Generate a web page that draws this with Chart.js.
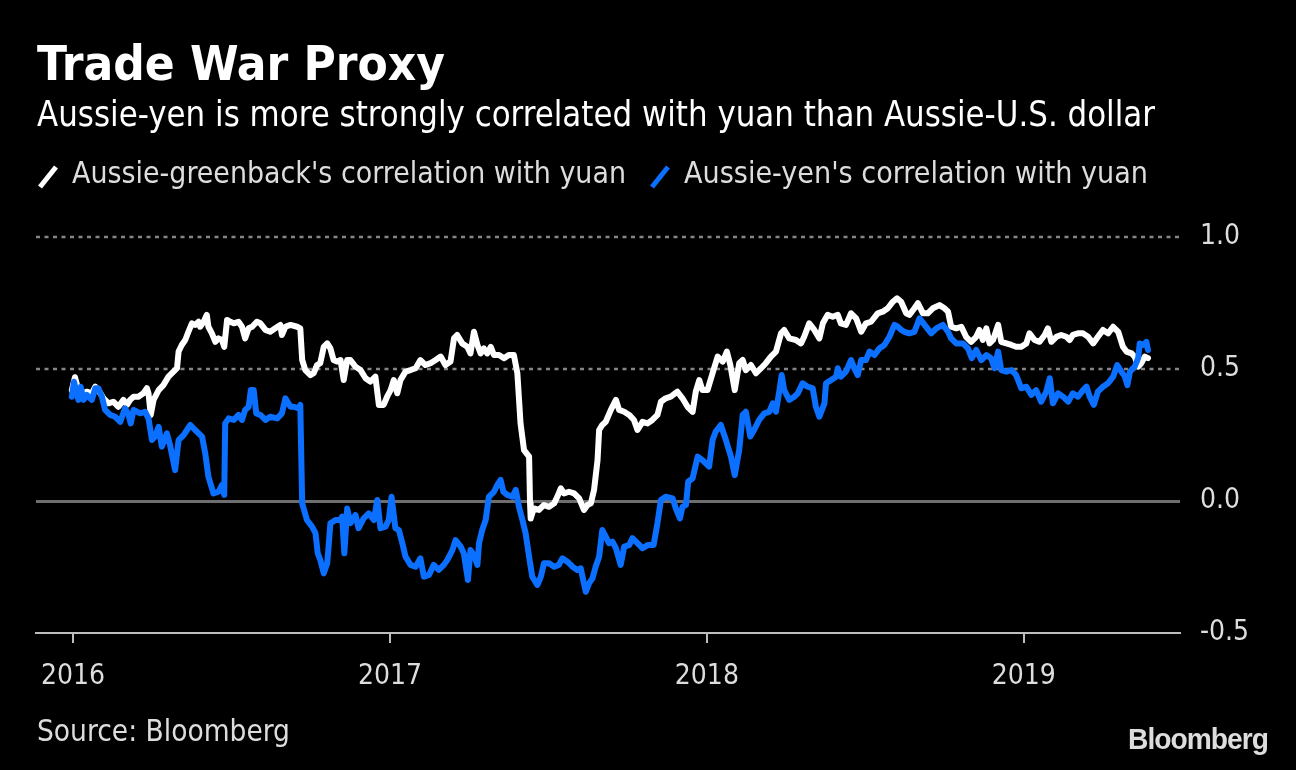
<!DOCTYPE html>
<html><head><meta charset="utf-8">
<script src="https://cdn.jsdelivr.net/npm/chart.js@4/dist/chart.umd.min.js"></script>
<style>
html,body{margin:0;padding:0;background:#000;width:1296px;height:770px;overflow:hidden}
#wrap{position:relative;width:1296px;height:770px;background:#000}
canvas{position:absolute;left:0;top:0}
.t{position:absolute;white-space:nowrap;line-height:1;transform-origin:0 0;font-family:'DejaVu Sans Condensed','DejaVu Sans',sans-serif}
svg{position:absolute;left:0;top:0}
</style></head><body>
<div id="wrap">
<canvas id="c" width="1296" height="770"></canvas>
<div class="t" data-w="408" style="left:37px;top:39px;font-size:48px;font-weight:bold;color:#fff">Trade War Proxy</div>
<div class="t" data-w="1118" style="left:37px;top:97px;font-size:35px;color:#fff">Aussie-yen is more strongly correlated with yuan than Aussie-U.S. dollar</div>
<svg width="1296" height="200"><line x1="40" y1="187" x2="56" y2="167" stroke="#fff" stroke-width="5"/><line x1="652" y1="187" x2="668" y2="167" stroke="#0b6fff" stroke-width="5"/></svg>
<div class="t" data-w="554" style="left:72px;top:158px;font-size:30px;color:#ddd">Aussie-greenback's correlation with yuan</div>
<div class="t" data-w="464" style="left:684px;top:158px;font-size:30px;color:#ddd">Aussie-yen's correlation with yuan</div>
<div class="t" data-w="253" style="left:37px;top:716px;font-size:30px;color:#ddd">Source: Bloomberg</div>
<div class="t" data-w="140" style="left:1128px;top:725px;font-size:29px;font-weight:bold;color:#ddd;font-family:'Liberation Sans',Arial,sans-serif;letter-spacing:-1px">Bloomberg</div>
</div>
<script>
// ---- data ----
const yearTicks = [2016, 2017, 2018, 2019];
const valueTicks = [-0.5, 0, 0.5, 1.0];
const dottedLevels = [0.5, 1.0];
const zeroLevel = 0;

const usdDates = [2015.996,2016.006,2016.014,2016.022,2016.033,2016.043,2016.059,2016.070,2016.080,2016.096,
2016.112,2016.127,2016.143,2016.159,2016.170,2016.180,2016.191,2016.206,2016.222,2016.233,
2016.238,2016.245,2016.254,2016.270,2016.285,2016.301,2016.317,2016.328,2016.333,2016.343,
2016.354,2016.364,2016.375,2016.385,2016.396,2016.401,2016.412,2016.422,2016.427,2016.438,
2016.449,2016.459,2016.470,2016.477,2016.486,2016.496,2016.507,2016.522,2016.533,2016.543,
2016.554,2016.565,2016.580,2016.591,2016.607,2016.622,2016.638,2016.654,2016.659,2016.670,
2016.686,2016.707,2016.717,2016.723,2016.733,2016.749,2016.759,2016.770,2016.780,2016.791,
2016.802,2016.812,2016.822,2016.833,2016.844,2016.854,2016.865,2016.875,2016.891,2016.907,
2016.923,2016.938,2016.954,2016.965,2016.980,2016.991,2017.002,2017.012,2017.023,2017.033,
2017.049,2017.065,2017.081,2017.096,2017.112,2017.128,2017.144,2017.160,2017.175,2017.191,
2017.202,2017.212,2017.228,2017.244,2017.254,2017.265,2017.276,2017.286,2017.296,2017.307,
2017.318,2017.328,2017.344,2017.360,2017.375,2017.391,2017.402,2017.412,2017.423,2017.439,
2017.442,2017.444,2017.454,2017.470,2017.486,2017.502,2017.518,2017.528,2017.539,2017.549,
2017.565,2017.581,2017.597,2017.612,2017.623,2017.634,2017.644,2017.655,2017.660,2017.670,
2017.681,2017.697,2017.713,2017.723,2017.739,2017.755,2017.770,2017.781,2017.797,2017.813,
2017.828,2017.844,2017.855,2017.870,2017.886,2017.907,2017.923,2017.939,2017.955,2017.965,
2017.976,2017.986,2018.002,2018.018,2018.034,2018.050,2018.063,2018.074,2018.088,2018.102,
2018.113,2018.123,2018.139,2018.155,2018.171,2018.186,2018.202,2018.218,2018.234,2018.244,
2018.260,2018.281,2018.297,2018.307,2018.323,2018.339,2018.355,2018.366,2018.381,2018.397,
2018.413,2018.423,2018.439,2018.455,2018.471,2018.487,2018.502,2018.518,2018.539,2018.555,
2018.571,2018.587,2018.600,2018.613,2018.629,2018.639,2018.655,2018.666,2018.682,2018.697,
2018.713,2018.734,2018.750,2018.761,2018.771,2018.787,2018.803,2018.818,2018.834,2018.850,
2018.860,2018.871,2018.882,2018.892,2018.903,2018.919,2018.929,2018.945,2018.961,2018.976,
2018.992,2019.008,2019.018,2019.034,2019.050,2019.066,2019.076,2019.087,2019.103,2019.118,
2019.134,2019.145,2019.155,2019.171,2019.187,2019.203,2019.219,2019.234,2019.250,2019.266,
2019.282,2019.298,2019.313,2019.324,2019.340,2019.350,2019.361,2019.371,2019.382,2019.392];

const usdValues = [0.420,0.469,0.433,0.420,0.408,0.414,0.408,0.433,0.420,0.389,
0.370,0.376,0.357,0.383,0.364,0.383,0.395,0.395,0.408,0.427,
0.408,0.326,0.383,0.420,0.439,0.471,0.490,0.503,0.566,0.591,
0.610,0.641,0.673,0.667,0.679,0.660,0.679,0.705,0.660,0.635,
0.603,0.616,0.610,0.584,0.686,0.679,0.673,0.679,0.660,0.616,
0.654,0.660,0.679,0.673,0.648,0.641,0.654,0.667,0.629,0.660,
0.667,0.660,0.654,0.534,0.496,0.477,0.484,0.515,0.522,0.584,
0.597,0.578,0.534,0.528,0.534,0.458,0.534,0.534,0.509,0.496,
0.465,0.452,0.471,0.364,0.364,0.395,0.420,0.458,0.408,0.458,
0.490,0.496,0.503,0.534,0.515,0.522,0.534,0.547,0.515,0.528,
0.616,0.629,0.597,0.584,0.559,0.641,0.591,0.559,0.578,0.559,
0.584,0.553,0.553,0.541,0.553,0.553,0.484,0.294,0.193,0.168,
-0.009,-0.066,-0.028,-0.034,-0.015,-0.022,-0.009,0.016,0.048,0.029,
0.035,0.029,0.010,-0.034,-0.015,-0.009,0.042,0.155,0.269,0.288,
0.300,0.345,0.383,0.345,0.338,0.326,0.307,0.269,0.300,0.294,
0.307,0.326,0.376,0.389,0.395,0.414,0.389,0.357,0.338,0.414,
0.458,0.420,0.420,0.484,0.547,0.528,0.566,0.515,0.420,0.522,
0.534,0.496,0.515,0.484,0.503,0.522,0.547,0.566,0.635,0.648,
0.616,0.610,0.597,0.622,0.673,0.648,0.616,0.673,0.705,0.698,
0.705,0.673,0.667,0.711,0.692,0.641,0.673,0.679,0.711,0.717,
0.730,0.755,0.768,0.755,0.711,0.705,0.730,0.749,0.711,0.711,
0.730,0.742,0.730,0.717,0.660,0.654,0.660,0.622,0.603,0.622,
0.648,0.610,0.654,0.597,0.610,0.667,0.603,0.597,0.591,0.584,
0.584,0.597,0.635,0.610,0.603,0.629,0.654,0.603,0.622,0.629,
0.622,0.610,0.629,0.635,0.635,0.622,0.597,0.622,0.648,0.635,
0.660,0.641,0.584,0.566,0.559,0.547,0.509,0.522,0.547,0.541];

const jpyDates = [2015.996,2016.003,2016.009,2016.017,2016.024,2016.033,2016.043,2016.059,2016.070,2016.080,
2016.091,2016.101,2016.117,2016.133,2016.149,2016.164,2016.175,2016.182,2016.191,2016.212,
2016.227,2016.238,2016.249,2016.259,2016.270,2016.280,2016.296,2016.306,2016.322,2016.333,
2016.349,2016.370,2016.385,2016.407,2016.417,2016.427,2016.443,2016.459,2016.470,2016.477,
2016.480,2016.491,2016.507,2016.522,2016.533,2016.543,2016.554,2016.561,2016.570,2016.578,
2016.591,2016.607,2016.622,2016.644,2016.659,2016.670,2016.686,2016.696,2016.712,2016.717,
2016.723,2016.738,2016.754,2016.765,2016.772,2016.780,2016.791,2016.802,2016.812,2016.828,
2016.844,2016.849,2016.856,2016.865,2016.875,2016.891,2016.901,2016.917,2016.933,2016.949,
2016.960,2016.970,2016.986,2016.996,2017.005,2017.017,2017.028,2017.039,2017.049,2017.065,
2017.081,2017.096,2017.107,2017.123,2017.138,2017.154,2017.170,2017.181,2017.197,2017.207,
2017.223,2017.233,2017.246,2017.254,2017.265,2017.276,2017.281,2017.291,2017.302,2017.312,
2017.328,2017.339,2017.349,2017.358,2017.370,2017.386,2017.397,2017.407,2017.418,2017.428,
2017.439,2017.449,2017.465,2017.476,2017.486,2017.502,2017.518,2017.533,2017.544,2017.560,
2017.576,2017.591,2017.602,2017.612,2017.618,2017.628,2017.639,2017.649,2017.660,2017.670,
2017.681,2017.691,2017.702,2017.713,2017.728,2017.739,2017.755,2017.765,2017.781,2017.797,
2017.813,2017.832,2017.844,2017.855,2017.870,2017.892,2017.902,2017.915,2017.923,2017.934,
2017.941,2017.955,2017.971,2017.986,2018.007,2018.018,2018.028,2018.044,2018.060,2018.076,
2018.088,2018.102,2018.113,2018.123,2018.137,2018.149,2018.165,2018.181,2018.197,2018.208,
2018.218,2018.229,2018.236,2018.244,2018.260,2018.276,2018.287,2018.302,2018.318,2018.334,
2018.344,2018.355,2018.371,2018.376,2018.392,2018.408,2018.413,2018.423,2018.439,2018.455,
2018.465,2018.476,2018.487,2018.502,2018.513,2018.529,2018.544,2018.560,2018.576,2018.592,
2018.603,2018.613,2018.623,2018.639,2018.655,2018.671,2018.687,2018.708,2018.724,2018.745,
2018.761,2018.771,2018.787,2018.808,2018.824,2018.836,2018.850,2018.866,2018.882,2018.897,
2018.908,2018.919,2018.929,2018.945,2018.961,2018.976,2018.992,2019.008,2019.024,2019.039,
2019.055,2019.071,2019.082,2019.092,2019.108,2019.124,2019.140,2019.155,2019.171,2019.187,
2019.198,2019.208,2019.221,2019.234,2019.250,2019.266,2019.282,2019.295,2019.308,2019.319,
2019.327,2019.335,2019.350,2019.361,2019.366,2019.377,2019.387,2019.392];

const jpyValues = [0.395,0.452,0.420,0.383,0.433,0.383,0.402,0.383,0.427,0.427,
0.395,0.345,0.326,0.319,0.300,0.351,0.326,0.294,0.345,0.332,
0.338,0.313,0.231,0.244,0.281,0.206,0.256,0.212,0.117,0.231,
0.250,0.288,0.269,0.244,0.181,0.092,0.029,0.035,0.061,0.023,
0.294,0.313,0.307,0.326,0.307,0.345,0.357,0.420,0.420,0.332,
0.326,0.307,0.319,0.313,0.332,0.389,0.357,0.357,0.351,0.364,
-0.009,-0.072,-0.097,-0.122,-0.198,-0.223,-0.274,-0.236,-0.084,-0.072,
-0.072,-0.059,-0.198,-0.028,-0.084,-0.053,-0.103,-0.066,-0.047,-0.072,
0.004,-0.103,-0.097,-0.072,0.016,-0.103,-0.110,-0.160,-0.211,-0.242,
-0.249,-0.217,-0.287,-0.280,-0.242,-0.261,-0.242,-0.223,-0.186,-0.148,
-0.173,-0.198,-0.299,-0.186,-0.205,-0.242,-0.160,-0.110,-0.072,0.016,
0.035,0.061,0.080,0.035,0.023,0.016,0.042,-0.022,-0.072,-0.122,
-0.211,-0.287,-0.318,-0.287,-0.236,-0.236,-0.249,-0.242,-0.217,-0.230,
-0.249,-0.261,-0.255,-0.312,-0.344,-0.312,-0.293,-0.249,-0.211,-0.110,
-0.135,-0.160,-0.154,-0.179,-0.242,-0.173,-0.167,-0.141,-0.160,-0.179,
-0.167,-0.167,-0.084,0.004,0.016,0.010,-0.028,-0.066,-0.022,-0.015,
0.073,0.086,0.168,0.155,0.130,0.231,0.263,0.288,0.231,0.168,
0.098,0.193,0.326,0.338,0.244,0.269,0.307,0.332,0.338,0.370,
0.338,0.420,0.477,0.420,0.383,0.395,0.408,0.446,0.433,0.427,
0.357,0.319,0.370,0.446,0.458,0.471,0.503,0.471,0.490,0.534,
0.503,0.477,0.534,0.534,0.566,0.553,0.578,0.591,0.622,0.667,
0.660,0.648,0.641,0.635,0.641,0.692,0.667,0.635,0.654,0.667,
0.641,0.616,0.597,0.597,0.578,0.541,0.572,0.534,0.553,0.541,
0.503,0.566,0.496,0.490,0.496,0.477,0.427,0.433,0.402,0.420,
0.376,0.414,0.465,0.370,0.408,0.395,0.376,0.408,0.395,0.420,
0.433,0.395,0.364,0.414,0.433,0.446,0.471,0.515,0.490,0.471,
0.439,0.490,0.509,0.541,0.597,0.591,0.603,0.572];

const seriesNames = ["Aussie-greenback's correlation with yuan", "Aussie-yen's correlation with yuan"];
const seriesColors = ['#ffffff', '#0b6fff'];

// ---- chart ----
const pair = (xs, ys) => xs.slice(0, Math.min(xs.length, ys.length)).map((x, i) => ({x, y: ys[i]}));
const FONT = "'DejaVu Sans Condensed','DejaVu Sans',sans-serif";

const gridPlugin = {
  id: 'refLines',
  beforeDatasetsDraw(chart) {
    const {ctx, chartArea: a, scales: {y}} = chart;
    ctx.save();
    ctx.lineWidth = 2.5;
    ctx.strokeStyle = '#858585';
    ctx.setLineDash([4, 4.5]);
    dottedLevels.forEach(v => {
      const py = Math.round(y.getPixelForValue(v));
      ctx.beginPath(); ctx.moveTo(a.left, py); ctx.lineTo(a.right, py); ctx.stroke();
    });
    ctx.setLineDash([]);
    ctx.lineWidth = 3;
    ctx.strokeStyle = '#6e6e6e';
    const pz = Math.round(y.getPixelForValue(zeroLevel)) + 0.5;
    ctx.beginPath(); ctx.moveTo(a.left, pz); ctx.lineTo(a.right, pz); ctx.stroke();
    ctx.restore();
  }
};

new Chart(document.getElementById('c'), {
  type: 'line',
  data: {
    datasets: [
      {label: seriesNames[0], data: pair(usdDates, usdValues), borderColor: seriesColors[0], order: 1},
      {label: seriesNames[1], data: pair(jpyDates, jpyValues), borderColor: seriesColors[1], order: 0}
    ]
  },
  options: {
    responsive: false,
    animation: false,
    devicePixelRatio: 1,
    parsing: false,
    layout: {padding: {left: 36, top: 237, right: 0, bottom: 0}},
    elements: {
      line: {borderWidth: 6, tension: 0, borderJoinStyle: 'round', borderCapStyle: 'round'},
      point: {radius: 0, hoverRadius: 0}
    },
    plugins: {legend: {display: false}, tooltip: {enabled: false}},
    scales: {
      x: {
        type: 'linear',
        min: 2015.883, max: 2019.493,
        afterBuildTicks: s => { s.ticks = yearTicks.map(v => ({value: v})); },
        afterFit: s => { s.height = 137; },
        grid: {display: true, drawOnChartArea: false, drawTicks: true, tickLength: 10, color: '#bdbdbd', lineWidth: 2},
        border: {display: true, color: '#bdbdbd', width: 2},
        ticks: {color: '#dddddd', font: {family: FONT, size: 28}, padding: 17, maxRotation: 0, autoSkip: false,
          callback: v => String(v)}
      },
      y: {
        type: 'linear',
        position: 'right',
        min: -0.5, max: 1.0,
        afterBuildTicks: s => { s.ticks = valueTicks.map(v => ({value: v})); },
        afterFit: s => { s.width = 116; },
        grid: {display: false, drawTicks: false},
        border: {display: false},
        ticks: {color: '#dddddd', font: {family: FONT, size: 28}, padding: 20,
          callback: v => v.toFixed(1)}
      }
    }
  },
  plugins: [gridPlugin]
});

// fit headline texts to their measured widths in the original
function fitTexts() {
  document.querySelectorAll('.t[data-w]').forEach(el => {
    el.style.transform = 'none';
    const w = el.getBoundingClientRect().width;
    const target = parseFloat(el.dataset.w);
    if (w > 0) el.style.transform = 'scaleX(' + (target / w) + ')';
  });
}
fitTexts();
if (document.fonts && document.fonts.ready) document.fonts.ready.then(fitTexts);
</script>
</body></html>
